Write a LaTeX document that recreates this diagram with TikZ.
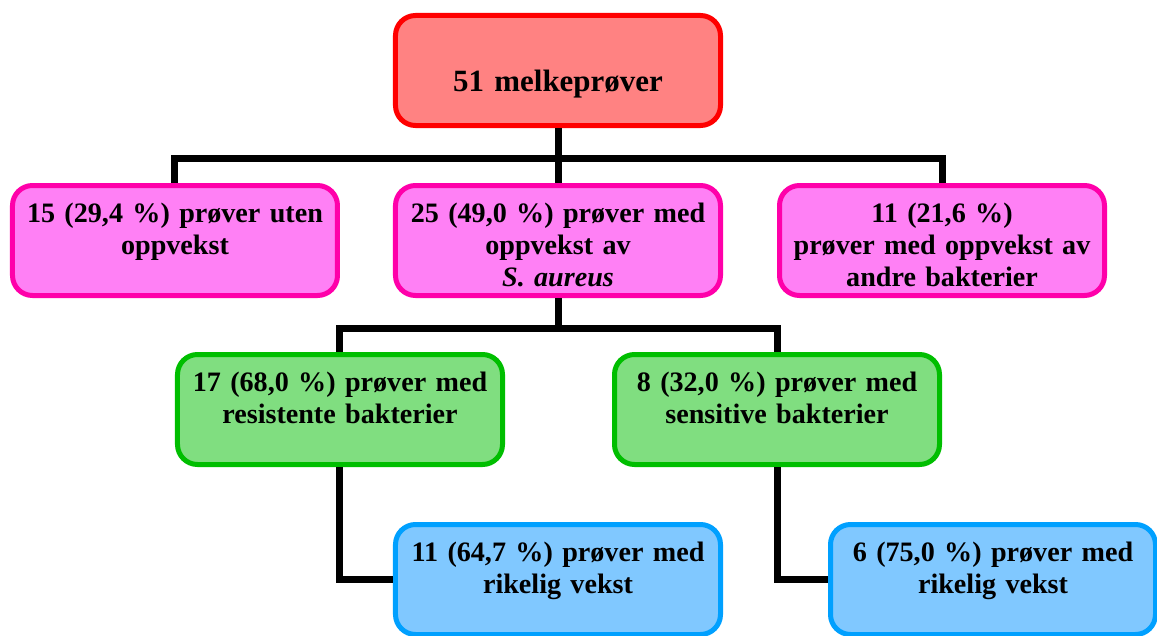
\documentclass[tikz,border=0pt]{standalone}
\usepackage{fontspec}
\setmainfont{Liberation Serif}
\usepackage{xcolor}
\usepackage{tikz}
\usetikzlibrary{positioning, calc}
\definecolor{rootred}{RGB}{255,0,0}
\definecolor{lightred}{RGB}{255,130,130}
\definecolor{grppink}{RGB}{255,0,170}
\definecolor{lightpink}{RGB}{255,128,245}
\definecolor{grpgreen}{RGB}{0,190,0}
\definecolor{lightgreen}{RGB}{128,222,128}
\definecolor{grpblue}{RGB}{0,160,255}
\definecolor{lightblue}{RGB}{128,200,255}
\tikzset{
  box/.style={
    rectangle, rounded corners=0.5cm, line width=0.125cm,
    minimum width=8.125cm, text width=7.9cm, align=center,
    inner xsep=0pt, inner ysep=0pt,
    text height=0.93cm, text depth=1.82cm,
    font=\fontsize{20}{22.7}\selectfont\bfseries
  },
  rootbox/.style={box, draw=rootred, fill=lightred,
    text height=1.91cm, text depth=0.84cm,
    font=\fontsize{22}{25}\selectfont\bfseries},
  pinkbox/.style={box, draw=grppink, fill=lightpink},
  greenbox/.style={box, draw=grpgreen, fill=lightgreen},
  bluebox/.style={box, draw=grpblue, fill=lightblue},
  link/.style={line width=0.175cm, black}
}
\begin{document}
\begin{tikzpicture}
  \useasboundingbox (-13.95,1.7625) rectangle (14.975,-14.1125);

  \node[rootbox] (top) at (0,0) {51 melkeprøver};

  \node[pinkbox, below=1.375cm of top] (saur)
    {25 (49,0 \%) prøver med\\oppvekst av\\\textit{S. aureus}};
  \node[pinkbox, left=1.325cm of saur] (none)
    {15 (29,4 \%) prøver uten\\oppvekst};
  \node[pinkbox, right=1.35cm of saur] (other)
    {11 (21,6 \%)\\prøver med oppvekst av\\andre bakterier};

  \node[greenbox, below=1.35cm of saur, xshift=-5.45cm] (resist)
    {17 (68,0 \%) prøver med\\resistente bakterier};
  \node[greenbox, below=1.35cm of saur, xshift=5.475cm] (sens)
    {8 (32,0 \%) prøver med\\sensitive bakterier};

  \node[bluebox, below=1.375cm of resist, xshift=5.45cm] (rikres)
    {11 (64,7 \%) prøver med\\rikelig vekst};
  \node[bluebox, below=1.375cm of sens, xshift=5.4cm] (riksens)
    {6 (75,0 \%) prøver med\\rikelig vekst};

  % tree connectors
  \coordinate (j1) at ($(top.south)!0.55!(saur.north)$);
  \coordinate (j2) at ($(saur.south)!0.57!(saur.south |- resist.north)$);
  \draw[link] (top.south) -- (j1);
  \draw[link] (none.north) |- (j1);
  \draw[link] (other.north) |- (j1);
  \draw[link] (j1) -- (saur.north);
  \draw[link] (saur.south) -- (j2);
  \draw[link] (resist.north) |- (j2);
  \draw[link] (sens.north) |- (j2);
  \draw[link] (resist.south) |- (rikres.west);
  \draw[link] (sens.south) |- (riksens.west);
\end{tikzpicture}
\end{document}
